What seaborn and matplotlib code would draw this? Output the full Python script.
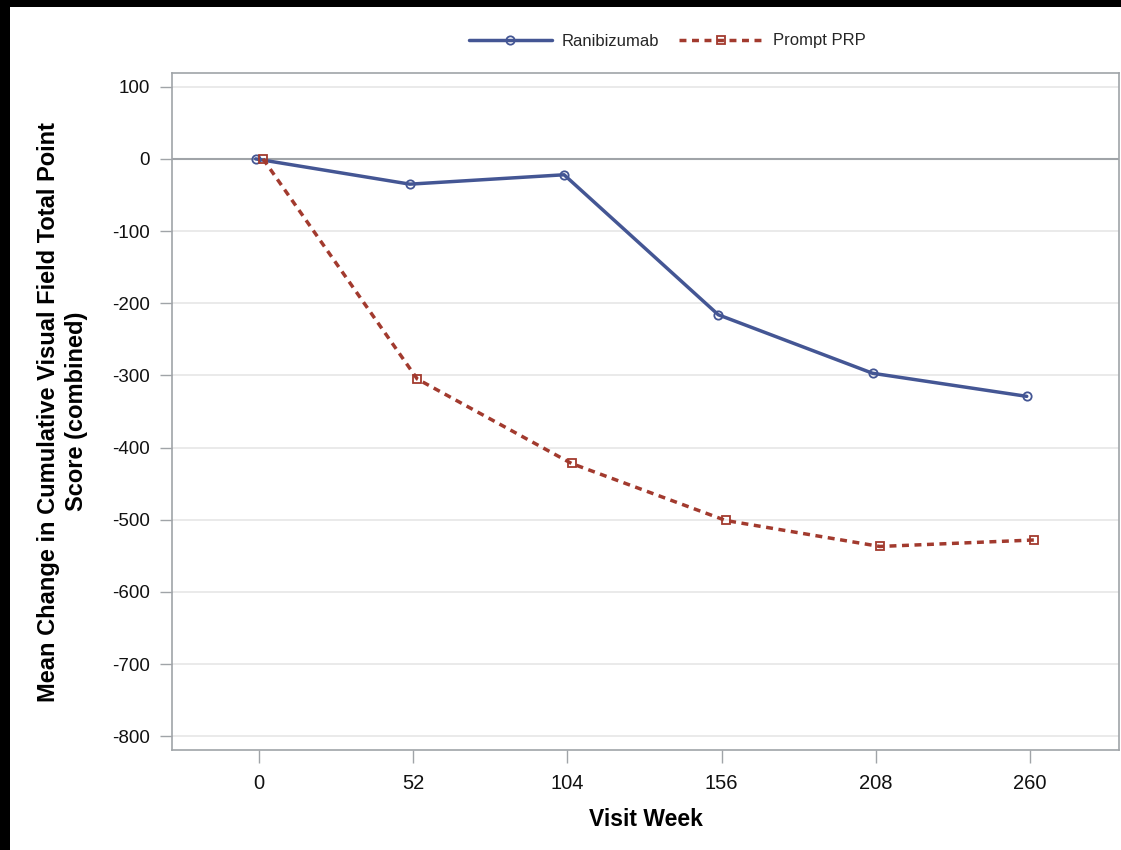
import pandas as pd
import matplotlib.pyplot as plt
import seaborn as sns
from matplotlib.patches import Rectangle

weeks = [0, 52, 104, 156, 208, 260]
ranibizumab = [0, -35, -22, -216, -297, -329]
prompt_prp = [0, -305, -422, -501, -537, -528]
groups = ['Ranibizumab', 'Prompt PRP']
group_offset = {'Ranibizumab': -1.1, 'Prompt PRP': 1.4}   # small dodge like the SAS plot

df = pd.DataFrame({
    'week': weeks * 2,
    'score': ranibizumab + prompt_prp,
    'group': [groups[0]] * len(weeks) + [groups[1]] * len(weeks),
})
df['x'] = df['week'] + df['group'].map(group_offset)

sns.set_style('white')
plt.rcParams['font.family'] = ['Liberation Sans', 'DejaVu Sans']
plt.rcParams['axes.unicode_minus'] = False

fig = plt.figure(figsize=(11.21, 8.5), dpi=100, facecolor='black')
fig.patches.append(Rectangle((10 / 1121, 0), 1, 1 - 7 / 850, transform=fig.transFigure,
                             facecolor='white', edgecolor='none', zorder=-1))
ax = fig.add_axes([172 / 1121, 1 - 750 / 850, (1119 - 172) / 1121, (750 - 73) / 850])

palette = {'Ranibizumab': '#445694', 'Prompt PRP': '#A23A2E'}
ax.axhline(0, color='#A0A4A8', linewidth=1.5, zorder=1)
sns.lineplot(data=df, x='x', y='score', hue='group', style='group', palette=palette,
             markers={'Ranibizumab': 'o', 'Prompt PRP': 's'},
             dashes={'Ranibizumab': '', 'Prompt PRP': (2, 1.6)},
             linewidth=2.5, markersize=6, markerfacecolor='none', markeredgewidth=1.3,
             ax=ax, zorder=3, legend=False)
# open markers need edge colours per series
for line, g in zip(ax.lines[1:], groups):
    line.set_markeredgecolor(palette[g])

ax.set_xlim(-29.3, 290)
ax.set_ylim(-819, 119)
ax.set_xticks(weeks)
ax.set_yticks(range(-800, 101, 100))
ax.yaxis.grid(True, color='#E6E6E6', linewidth=1.2)
ax.set_axisbelow(True)
for s in ax.spines.values():
    s.set_color('#A0A4A8')
    s.set_linewidth(1.2)
ax.tick_params(axis='both', which='both', direction='out', length=9, width=1,
               bottom=True, left=True, color='#A0A4A8', labelcolor='#111111')
ax.tick_params(axis='y', labelsize=13.5, pad=7)
ax.tick_params(axis='x', labelsize=14.5, pad=8)
ax.set_xlabel('Visit Week', fontsize=16.5, fontweight='bold', labelpad=11, color='black')
ax.set_ylabel('Mean Change in Cumulative Visual Field Total Point\nScore (combined)',
              fontsize=17, fontweight='bold', labelpad=17, linespacing=1.3, color='black')

handles = [
    plt.Line2D([], [], color=palette['Ranibizumab'], linewidth=2.5, marker='o', markersize=6,
               markerfacecolor='none', markeredgewidth=1.3),
    plt.Line2D([], [], color=palette['Prompt PRP'], linewidth=2.5, linestyle=(0, (2, 1.6)),
               marker='s', markersize=6, markerfacecolor='none', markeredgewidth=1.3),
]
fig.legend(handles, groups, loc='center', bbox_to_anchor=(667 / 1121, 1 - 41 / 850), ncol=2,
           frameon=False, fontsize=12, handlelength=5, columnspacing=1.2, handletextpad=0.6)

fig.savefig('out.png', dpi=100, facecolor=fig.get_facecolor())
